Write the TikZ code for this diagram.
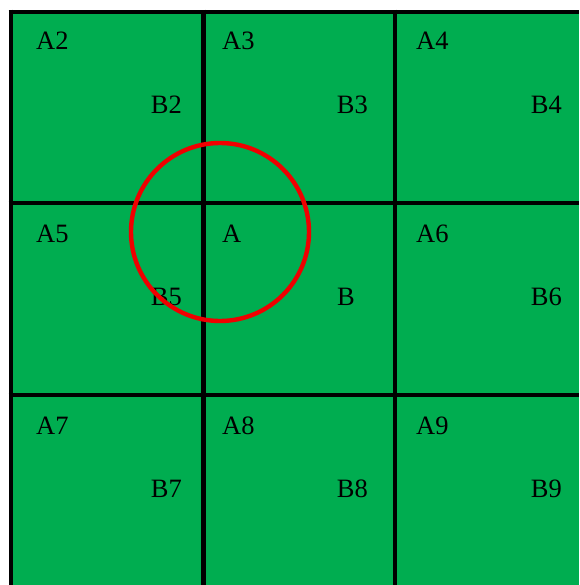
\documentclass[tikz,border=0pt]{standalone}
\usepackage{fontspec}
\setmainfont{Liberation Serif}
\usepackage{tikz}
\usetikzlibrary{positioning}
\definecolor{cellgreen}{HTML}{00AD50}
\definecolor{ringred}{HTML}{F00000}

\begin{document}
\begin{tikzpicture}[
  x=1pt,y=-1pt,
  gridline/.style={line width=4.6pt,black},
  alabel/.style={anchor=base west,inner sep=0pt,font=\fontsize{26.5}{30}\selectfont},
  blabel/.style={anchor=base east,inner sep=0pt,font=\fontsize{26.5}{30}\selectfont},
  ring/.style={line width=4.4pt,ringred}
]
\useasboundingbox (0,0) rectangle (579,585);
\fill[cellgreen] (11,12) rectangle (579,585);

% grid
\foreach \gx in {11,203.5,395} \draw[gridline] (\gx,9.7) -- (\gx,585);
\foreach \gy in {12,203,395} \draw[gridline] (8.7,\gy) -- (579,\gy);

% top row
\node[alabel] (a2) at (36,50) {A2};
\node[blabel] (b2) at (182,114) {B2};
\node[alabel] (a3) at (222,50) {A3};
\node[blabel] (b3) at (368,114) {B3};
\node[alabel] (a4) at (416,50) {A4};
\node[blabel] (b4) at (562,114) {B4};

% middle row
\node[alabel] (a5) at (36,242) {A5};
\node[blabel] (b5) at (182,305) {B5};
\node[alabel] (a) at (222,242) {A};
\node[blabel] (b) at (355,305) {B};
\node[alabel] (a6) at (416,242) {A6};
\node[blabel] (b6) at (562,305) {B6};

% bottom row
\node[alabel] (a7) at (36,434) {A7};
\node[blabel] (b7) at (182,497) {B7};
\node[alabel] (a8) at (222,434) {A8};
\node[blabel] (b8) at (368,497) {B8};
\node[alabel] (a9) at (416,434) {A9};
\node[blabel] (b9) at (562,497) {B9};

% search radius
\coordinate (centre) at (220,232);
\draw[ring] (centre) circle (89);
\end{tikzpicture}
\end{document}
